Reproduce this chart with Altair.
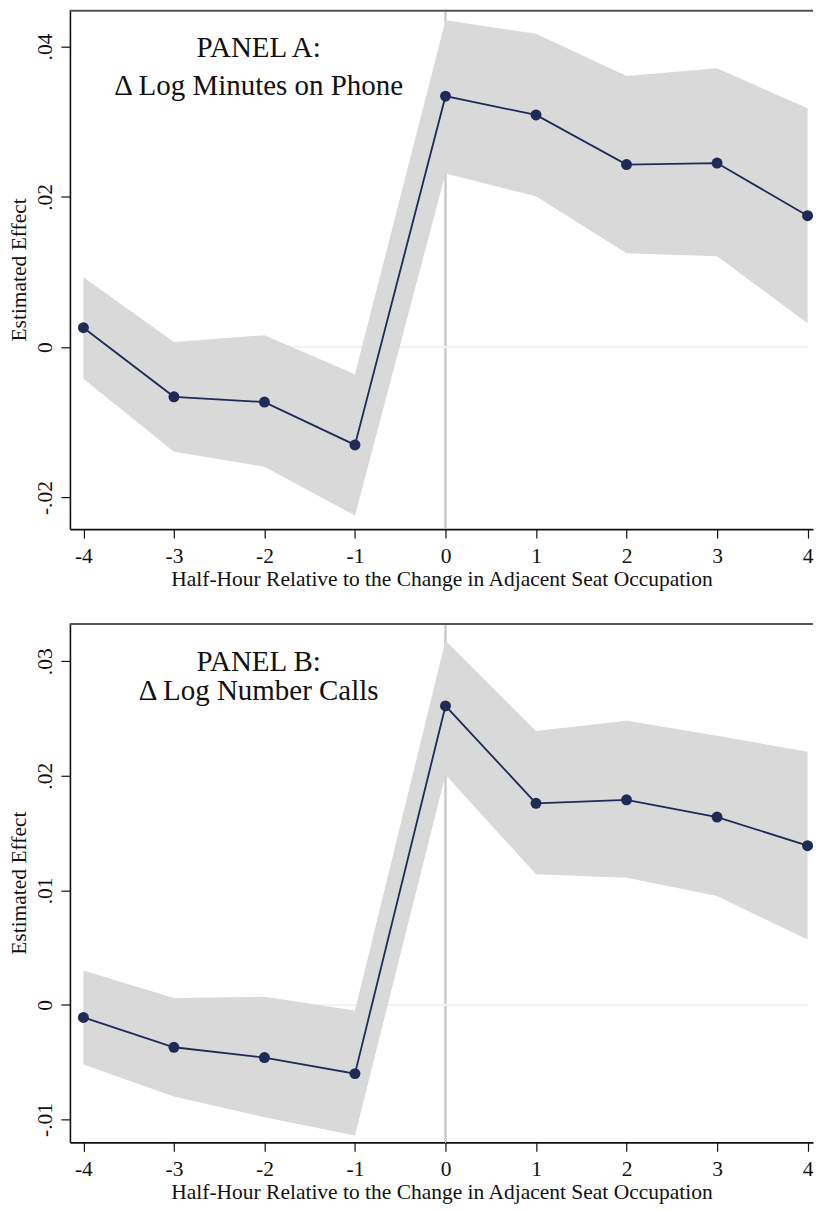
import altair as alt
import pandas as pd

# ---- data ----
periods = [-4, -3, -2, -1, 0, 1, 2, 3, 4]

a_est = [0.0026, -0.0066, -0.0073, -0.0130, 0.0334, 0.0309, 0.0243, 0.0245, 0.0175]
a_hi = [0.0093, 0.0007, 0.0016, -0.0036, 0.0435, 0.0417, 0.0361, 0.0371, 0.0318]
a_lo = [-0.0042, -0.0139, -0.0159, -0.0224, 0.0231, 0.0201, 0.0125, 0.0121, 0.0032]

b_est = [-0.0011, -0.0037, -0.0046, -0.0060, 0.0261, 0.0176, 0.0179, 0.0164, 0.0139]
b_hi = [0.0030, 0.0006, 0.0007, -0.0005, 0.0318, 0.0239, 0.0248, 0.0235, 0.0221]
b_lo = [-0.0052, -0.0080, -0.0098, -0.0114, 0.0201, 0.0114, 0.0111, 0.0095, 0.0057]

a_title = ["PANEL A:", "\u0394 Log Minutes on Phone"]
b_title = ["PANEL B:", "\u0394 Log Number Calls"]
a_yticks = [-0.02, 0.0, 0.02, 0.04]
b_yticks = [-0.01, 0.0, 0.01, 0.02, 0.03]

x_title = "Half-Hour Relative to the Change in Adjacent Seat Occupation"
y_title = "Estimated Effect"

FONT = "Liberation Serif"
NAVY = "#1d2b56"
BAND = "#d9d9d9"
W = 744

y_label_expr = ("datum.value == 0 ? '0' : (datum.value < 0 ? '-' : '') + "
                "substring(format(abs(datum.value), '.2f'), 1)")
x_label_expr = "(datum.value < 0 ? '-' : '') + format(abs(datum.value), 'd')"


def panel(est, lo, hi, title_lines, yticks, ydomain, height, title_y, line_h):
    df = pd.DataFrame({"t": periods, "est": est, "lo": lo, "hi": hi})
    xsc = alt.Scale(domain=[-4.149, 4.06], nice=False, zero=False)
    ysc = alt.Scale(domain=ydomain, nice=False, zero=False)
    xax = alt.Axis(values=periods, labelExpr=x_label_expr, title=x_title)
    yax = alt.Axis(values=yticks, labelExpr=y_label_expr, title=y_title,
                   labelAngle=270, labelAlign="center", labelBaseline="alphabetic")

    base = alt.Chart(df)
    vline = base.mark_rule(color="#c6c6c6", strokeWidth=1.2).encode(
        x=alt.datum(0, scale=xsc, axis=xax))
    hline = base.mark_rule(color="#f2f2f2", strokeWidth=1).encode(
        x=alt.datum(-4), x2=alt.datum(4), y=alt.datum(0, scale=ysc, axis=yax))
    band = base.mark_area(color=BAND, opacity=1).encode(
        x=alt.X("t:Q", scale=xsc, axis=xax),
        y=alt.Y("lo:Q", scale=ysc, axis=yax),
        y2="hi:Q")
    line = base.mark_line(color=NAVY, strokeWidth=1.8).encode(
        x="t:Q", y="est:Q")
    pts = base.mark_circle(color=NAVY, size=120, opacity=1).encode(
        x="t:Q", y="est:Q")
    top = alt.Chart(pd.DataFrame({"a": [0]})).mark_rule(
        color="#555555", strokeWidth=2).encode(
        x=alt.value(0), x2=alt.value(W), y=alt.value(1))
    tdf = pd.DataFrame({"line": title_lines, "i": list(range(len(title_lines)))})
    txt = alt.Chart(tdf).transform_calculate(
        py=f"{title_y} + datum.i * {line_h}").mark_text(
        font=FONT, fontSize=29, align="center", baseline="alphabetic",
        color="#111111").encode(
        text="line:N", x=alt.value(189),
        y=alt.Y("py:Q", scale=None, axis=None))
    return alt.layer(vline, hline, band, line, pts, top, txt).properties(
        width=W, height=height)


pa = panel(a_est, a_lo, a_hi, a_title, a_yticks, [-0.0242, 0.0449], 520, 47, 38)
pb = panel(b_est, b_lo, b_hi, b_title, b_yticks, [-0.0120, 0.03334], 520, 48, 29)

chart = alt.vconcat(pa, pb, spacing=32).properties(
    padding={"left": 0, "top": 0, "right": 0, "bottom": 0},
    background="white",
).configure_view(stroke=None).configure_axis(
    grid=False,
    labelFont=FONT, titleFont=FONT,
    labelFontSize=21.5, titleFontSize=21.5,
    labelColor="#111111", titleColor="#111111",
    titleFontWeight="normal",
    domainColor="#111111", domainWidth=1.6,
    tickColor="#111111", tickWidth=1.2, tickSize=9,
    labelPadding=7, titlePadding=2,
).configure_axisY(labelPadding=9, titlePadding=4)

chart.save("out.html", embed_options={"renderer": "svg", "actions": False})
